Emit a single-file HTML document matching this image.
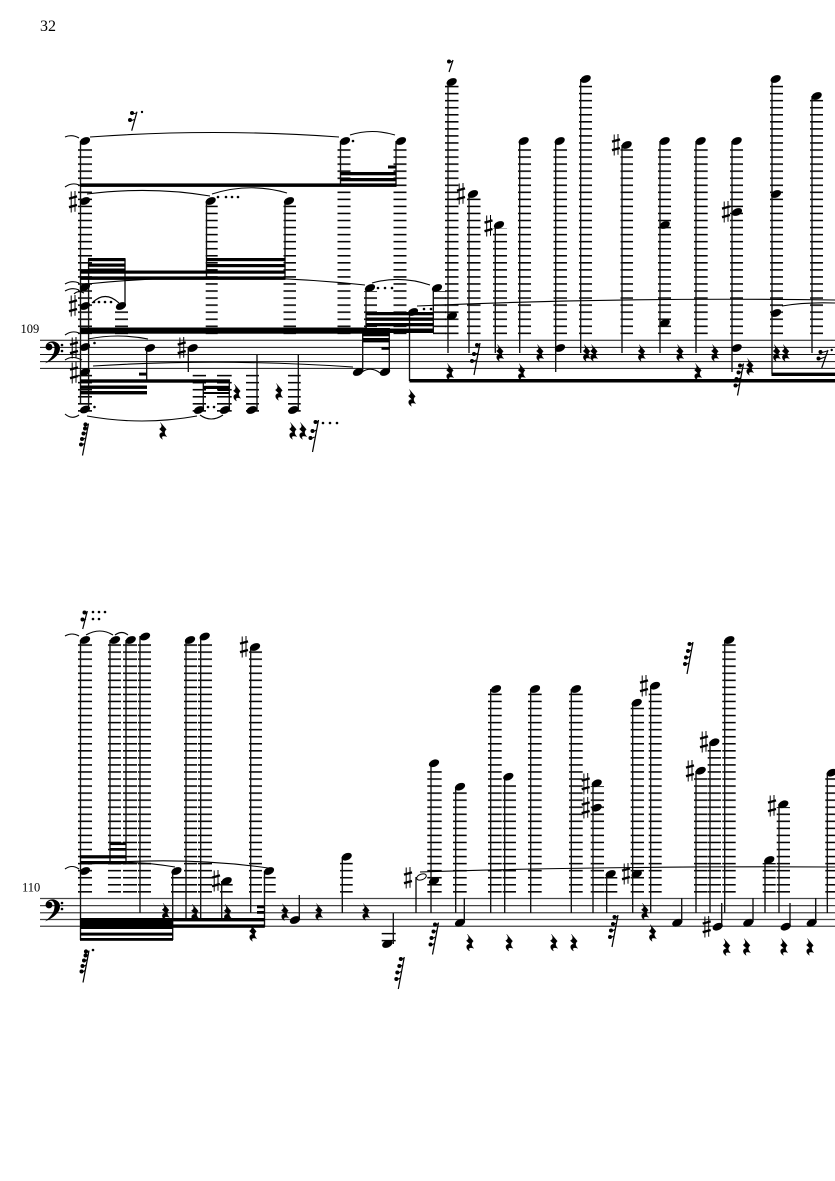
<!DOCTYPE html>
<html><head><meta charset="utf-8"><style>
html,body{margin:0;padding:0;background:#fff}
svg{display:block}
text{font-family:"Liberation Serif",serif;fill:#000}
</style></head><body>
<svg width="835" height="1181" viewBox="0 0 835 1181" xmlns="http://www.w3.org/2000/svg">
<defs>
<pattern id="a" patternUnits="userSpaceOnUse" width="10" height="7.05" y="329.7"><rect x="0" y="2.85" width="10" height="1.55" fill="#000"/></pattern>
<pattern id="b" patternUnits="userSpaceOnUse" width="10" height="7.05" y="888.2"><rect x="0" y="2.85" width="10" height="1.55" fill="#000"/></pattern>
<ellipse id="n" cx="0" cy="0" rx="5.4" ry="3.5" transform="rotate(-24)"/>
<g id="s" stroke="#000" fill="none"><path d="M-1.8 -10.5V10.5M2 -11V9.8" stroke-width="1"/><path d="M-4 -3.4L4 -5.6M-4 5.2L4 3" stroke-width="2.4"/></g>
<path id="q" stroke="#000" stroke-width=".4" d="M-2.6 -8.5L3.3 -1.6C1 .5 1 2.6 3.7 5.6C1 4.6 -2.6 4.6 -.5 8.3C-4.2 6.2 -4.6 1.6 0 1.4L-3.6 -2C-1 -3.6 -.6 -5.2 -2.6 -8.5Z"/>
<g id="f3"><path d="M-3 16L3 -16" stroke="#000" stroke-width="1.2" fill="none"/><circle cx="0" cy="-14" r="2"/><circle cx="-3" cy="-5" r="2"/><circle cx="-5" cy="2" r="2"/><path d="M-1 -13L3 -15M-3 -4L1 -6M-5 3L-1 1" stroke="#000" stroke-width="1.1"/></g>
<g id="f4"><path d="M-3 16L3 -16" stroke="#000" stroke-width="1.2" fill="none"/><circle cx="-.5" cy="-14" r="2"/><circle cx="-2" cy="-7" r="2"/><circle cx="-4" cy="-.5" r="2"/><circle cx="-5" cy="6" r="2"/><path d="M-.5 -13L3 -15M-2 -6L1.5 -8M-4 .5L0 -1.5M-5 7L-1 5" stroke="#000" stroke-width="1.1"/></g>
<g id="f5"><path d="M-3 16L3 -16" stroke="#000" stroke-width="1.2" fill="none"/><circle cx="0" cy="-15" r="2.1"/><circle cx="-.5" cy="-11" r="2"/><circle cx="-2" cy="-6" r="2"/><circle cx="-3.5" cy="-.5" r="2"/><circle cx="-4.5" cy="5" r="2"/><path d="M0 -14L3 -15M-.5 -10L2.5 -12M-2 -5L1.5 -7M-3.5 .5L0 -1.5M-4.5 6L-1 4" stroke="#000" stroke-width="1.1"/></g>
<g id="c"><circle cx="49" cy="347" r="3.4"/><path d="M45.6 347C45.6 342 52 340.2 55.5 342C61 344.3 61 350 58 354.2C54.8 358.4 50 361.4 45 363.4C49.5 359.5 53.6 356 54.4 350C55.2 345.5 53 342.6 50.6 342.8C48.6 343.2 47.4 344.4 45.6 347Z"/><circle cx="62" cy="345" r="1.3"/><circle cx="62" cy="351" r="1.3"/></g>
</defs>
<rect width="835" height="1181" fill="#fff"/>
<text x="40" y="31" font-size="16">32</text>
<text x="20.5" y="333" font-size="12.5">109</text>
<text x="22" y="891.5" font-size="12.5">110</text>

<path d="M40 340.3H835M40 347.4H835M40 354.5H835M40 361.6H835M40 368.4H835" stroke="#111" stroke-width="1" fill="none"/>
<path d="M40 898.5H835M40 905.6H835M40 912.7H835M40 919.5H835M40 926.3H835" stroke="#444" stroke-width="1.25" fill="none"/>
<use href="#c"/><use href="#c" y="558"/>

<g fill="url(#a)">
<rect x="78" y="144" width="14" height="191"/><rect x="115" y="308" width="13" height="27"/><rect x="205.7" y="204" width="12" height="131"/><rect x="283.5" y="204" width="12.5" height="131"/><rect x="337.5" y="144" width="13" height="191"/><rect x="393.5" y="144" width="13" height="191"/><rect x="364" y="291" width="13" height="44"/><rect x="433" y="291" width="13" height="44"/>
<rect x="445" y="85" width="13.5" height="250"/><rect x="467" y="197" width="13.5" height="138"/><rect x="493" y="228" width="14" height="107"/><rect x="518" y="144" width="13" height="191"/><rect x="553.5" y="144" width="13.5" height="191"/><rect x="579" y="82" width="13" height="253"/><rect x="620.5" y="148" width="12.5" height="187"/><rect x="658" y="144" width="13" height="191"/><rect x="694" y="144" width="13.7" height="191"/><rect x="730" y="144" width="13" height="191"/><rect x="770" y="82" width="13" height="253"/><rect x="810" y="99" width="13" height="236"/>
<rect x="78" y="373" width="14" height="39"/><rect x="192.7" y="373" width="13.3" height="39"/><rect x="217" y="373" width="14.7" height="39"/><rect x="246" y="373" width="13" height="39"/><rect x="288" y="373" width="12.7" height="39"/>
</g>
<g fill="url(#b)">
<rect x="78" y="643" width="14" height="250"/><rect x="108" y="643" width="13" height="250"/><rect x="123" y="643" width="14" height="250"/><rect x="138" y="639" width="13" height="254"/><rect x="184" y="642" width="13" height="251"/><rect x="198" y="639" width="14" height="254"/><rect x="249" y="650" width="13" height="243"/><rect x="171" y="875" width="13" height="18"/><rect x="220" y="883" width="12.7" height="10"/><rect x="263.5" y="875" width="12.2" height="18"/><rect x="340" y="860" width="12.7" height="33"/>
<rect x="427.3" y="766" width="14.4" height="127"/><rect x="453" y="790" width="13.7" height="103"/><rect x="488" y="692" width="13.7" height="201"/><rect x="502.7" y="780" width="13.3" height="113"/><rect x="528" y="692" width="13.7" height="201"/><rect x="569" y="692" width="13.7" height="201"/><rect x="590.7" y="786" width="13.3" height="107"/><rect x="604.3" y="877" width="13" height="16"/><rect x="630.7" y="706" width="13.3" height="187"/><rect x="648.7" y="689" width="13" height="204"/><rect x="694" y="774" width="13.3" height="119"/><rect x="707.7" y="745" width="13.3" height="148"/><rect x="722.3" y="643" width="13.4" height="250"/><rect x="762.7" y="863" width="13" height="30"/><rect x="776.7" y="807" width="13.3" height="86"/><rect x="825.3" y="776" width="9.7" height="117"/>
</g>
<path d="M381.7 933.6H395.7M381.7 940.6H395.7" stroke="#000" stroke-width="1.5"/>

<path stroke="#111" stroke-width="1.35" fill="none" d="M80.5 141V403M88.6 259V409M125 259V306M146.7 348V381M188.3 348V372M203.3 381V410M229.3 381V410M257 355V410M298.3 355V410M206.5 201V278M285 201V278M340.5 141V185M396 141V185M366 288V333M362.7 328V372M389.3 328V372M409.5 312V381M433.3 288V333M448 82V353M469 194V353M495.3 225V353M519.7 141V353M555.7 141V372M580.7 79V353M622 145V353M660 141V353M696 141V353M732 141V372M772 79V374M812 96V353"/>
<path stroke="#111" stroke-width="1.35" fill="none" d="M80.5 640V940M110 640V863M126 640V863M140 636V913M186 639V919M200.7 636V919M250.7 647V913M172.7 871V940M221.7 881V919M264.5 871V927M299.3 920V895M342.3 857V913M393.3 944V913M416 877V913M431 763V913M455.7 787V913M464.3 922V898M490.7 689V913M504.7 777V913M530.7 689V913M571.3 689V913M593 783V913M606.7 874V913M632.7 703V913M650.7 686V913M681.7 922V898M696 771V913M710 742V913M721.7 926V903M724.7 640V913M753 922V898M765 860V913M779 804V913M790 926V903M815.7 922V898M827.3 773V913"/>

<g fill="#000">
<rect x="80" y="183.4" width="316.5" height="3.5"/>
<rect x="340" y="172" width="56.5" height="3.3"/><rect x="340" y="178" width="56.5" height="3.3"/><rect x="388" y="165.5" width="8.5" height="3"/>
<rect x="80" y="276.4" width="205.5" height="3.5"/><rect x="80" y="270.5" width="126.5" height="3.2"/><rect x="206" y="258" width="79.5" height="3.2"/><rect x="206" y="264" width="79.5" height="3.2"/><rect x="206" y="270.5" width="79.5" height="3.2"/>
<rect x="88" y="258" width="37.5" height="3.2"/><rect x="88" y="263.5" width="37.5" height="3.2"/><rect x="88" y="268.5" width="37.5" height="2.8"/>
<rect x="80" y="327.5" width="287" height="6.2"/>
<rect x="366" y="312" width="67.5" height="3.3"/><rect x="366" y="317.5" width="67.5" height="3.3"/><rect x="366" y="323" width="67.5" height="3.3"/><rect x="366" y="328.5" width="67.5" height="4.5"/>
<rect x="362.5" y="328" width="27" height="3.3"/><rect x="362.5" y="333" width="27" height="3.3"/><rect x="362.5" y="338" width="27" height="4.4"/><rect x="381.5" y="347" width="8" height="2.8"/>
<rect x="80" y="379.3" width="150" height="3.4"/><rect x="80" y="385.5" width="67" height="3.4"/><rect x="80" y="391" width="67" height="3.4"/><rect x="139" y="372.6" width="8" height="3"/>
<rect x="203" y="385.8" width="26.5" height="3.2"/><rect x="203" y="392" width="26.5" height="2"/><rect x="218" y="389" width="11.5" height="2"/>
<rect x="409.5" y="379" width="425.5" height="3.5"/><rect x="771.5" y="372.6" width="63.5" height="3.4"/>
<rect x="80" y="918" width="93" height="11"/><rect x="80" y="932.6" width="93" height="3"/><rect x="80" y="938" width="93" height="2.8"/>
<rect x="172" y="918" width="92.8" height="3.4"/><rect x="172" y="924.4" width="92.8" height="3.4"/><rect x="257" y="905.5" width="7.5" height="2.8"/><rect x="257" y="911" width="7.5" height="2.8"/>
<rect x="80" y="855.2" width="46" height="3.2"/><rect x="80" y="861" width="46" height="3.2"/><rect x="110" y="842.4" width="16" height="2.7"/><rect x="110" y="848" width="16" height="2.7"/>
</g>

<g>
<use href="#n" x="85" y="141"/><use href="#n" x="345" y="141"/><use href="#n" x="401" y="141"/>
<use href="#n" x="85" y="201"/><use href="#n" x="210.7" y="201"/><use href="#n" x="289" y="201"/>
<use href="#n" x="85" y="287"/><use href="#n" x="85" y="306"/><use href="#n" x="121" y="306"/><use href="#n" x="370" y="288"/>
<use href="#n" x="85" y="347"/><use href="#n" x="85" y="372"/><use href="#n" x="85" y="409.5"/><use href="#n" x="150" y="348"/><use href="#n" x="192.7" y="348"/>
<use href="#n" x="199" y="410"/><use href="#n" x="225" y="410"/><use href="#n" x="251.7" y="410"/><use href="#n" x="293.3" y="410"/>
<use href="#n" x="358" y="372"/><use href="#n" x="385" y="372"/><use href="#n" x="413" y="312"/><use href="#n" x="437" y="288"/>
<use href="#n" x="451.7" y="82"/><use href="#n" x="452" y="316"/><use href="#n" x="473" y="194"/><use href="#n" x="499" y="225"/><use href="#n" x="523.7" y="141"/><use href="#n" x="559.7" y="141"/><use href="#n" x="560" y="348"/><use href="#n" x="585.7" y="79"/><use href="#n" x="626.7" y="145"/><use href="#n" x="664.7" y="141"/><use href="#n" x="664.7" y="225"/><use href="#n" x="664.7" y="323"/><use href="#n" x="700.7" y="141"/><use href="#n" x="736.7" y="141"/><use href="#n" x="737" y="212"/><use href="#n" x="736.7" y="348"/><use href="#n" x="775.7" y="79"/><use href="#n" x="776" y="194"/><use href="#n" x="776" y="313"/><use href="#n" x="816.7" y="96"/>
<use href="#n" x="85" y="640"/><use href="#n" x="85" y="871"/><use href="#n" x="115" y="640"/><use href="#n" x="130.7" y="640"/><use href="#n" x="145" y="636.5"/><use href="#n" x="190" y="640"/><use href="#n" x="204.7" y="636.5"/><use href="#n" x="255" y="647"/><use href="#n" x="176.5" y="871"/><use href="#n" x="226.7" y="881"/><use href="#n" x="269" y="871"/><use href="#n" x="295" y="920"/><use href="#n" x="346.7" y="856.7"/><use href="#n" x="387.3" y="944"/>
<use href="#n" x="434" y="763.3"/><use href="#n" x="434" y="881"/><use href="#n" x="460" y="786.7"/><use href="#n" x="460" y="922.7"/><use href="#n" x="496" y="689"/><use href="#n" x="508.3" y="776.7"/><use href="#n" x="535" y="689"/><use href="#n" x="576" y="689"/><use href="#n" x="596.7" y="783.3"/><use href="#n" x="596.7" y="807.7"/><use href="#n" x="610.7" y="874"/><use href="#n" x="636.7" y="702.7"/><use href="#n" x="636.7" y="874"/><use href="#n" x="655" y="685.7"/><use href="#n" x="677.3" y="922.7"/><use href="#n" x="700.7" y="770.7"/><use href="#n" x="714.3" y="742.3"/><use href="#n" x="717.7" y="926.7"/><use href="#n" x="729.3" y="640"/><use href="#n" x="748.3" y="922.7"/><use href="#n" x="769.3" y="860"/><use href="#n" x="783.3" y="804.3"/><use href="#n" x="785.7" y="926.7"/><use href="#n" x="811.7" y="922.7"/><use href="#n" x="831.7" y="772.7"/>
</g>
<ellipse cx="421.5" cy="877" rx="5" ry="2.8" transform="rotate(-20 421.5 877)" fill="#fff" stroke="#000" stroke-width="1"/>

<g>
<use href="#s" x="73" y="202"/><use href="#s" x="73" y="306"/><use href="#s" x="74" y="348"/><use href="#s" x="74" y="373"/><use href="#s" x="181.7" y="348"/><use href="#s" x="461" y="194"/><use href="#s" x="488.5" y="226"/><use href="#s" x="616" y="145"/><use href="#s" x="726" y="212"/>
<use href="#s" x="244" y="647"/><use href="#s" x="216" y="881"/><use href="#s" x="408" y="878"/><use href="#s" x="585.7" y="784"/><use href="#s" x="585.7" y="808"/><use href="#s" x="626" y="874"/><use href="#s" x="644" y="686"/><use href="#s" x="690" y="771"/><use href="#s" x="704" y="742"/><use href="#s" x="706.7" y="927"/><use href="#s" x="772" y="806"/>
</g>

<g>
<use href="#q" x="237" y="392.7"/><use href="#q" x="279" y="392"/><use href="#q" x="163" y="431"/><use href="#q" x="293" y="431"/><use href="#q" x="303" y="431"/><use href="#q" x="412" y="398"/>
<use href="#q" x="450" y="372"/><use href="#q" x="500" y="353"/><use href="#q" x="521.7" y="372"/><use href="#q" x="540" y="353"/><use href="#q" x="586.7" y="353"/><use href="#q" x="594" y="353"/><use href="#q" x="641.7" y="353"/><use href="#q" x="680" y="353"/><use href="#q" x="715" y="353"/><use href="#q" x="698" y="372"/><use href="#q" x="750" y="367"/><use href="#q" x="776.7" y="353"/><use href="#q" x="785.7" y="353"/>
<use href="#q" x="165.7" y="911.7"/><use href="#q" x="195" y="912.7"/><use href="#q" x="227.7" y="912.7"/><use href="#q" x="253" y="933"/><use href="#q" x="285" y="912.3"/><use href="#q" x="319" y="912"/><use href="#q" x="366" y="912"/><use href="#q" x="470" y="942.7"/><use href="#q" x="509.3" y="942.7"/><use href="#q" x="554" y="942.7"/><use href="#q" x="574" y="942.7"/><use href="#q" x="645" y="911.7"/><use href="#q" x="652.7" y="933"/><use href="#q" x="726.7" y="947.3"/><use href="#q" x="746.7" y="947"/><use href="#q" x="784" y="947"/><use href="#q" x="810" y="947"/>
<use href="#f5" x="85.5" y="439.5"/><use href="#f3" x="315.5" y="436"/><use href="#f3" x="477" y="359"/><use href="#f4" x="740.5" y="379.5"/>
<use href="#f5" x="86" y="966.5"/><use href="#f4" x="401.3" y="973"/><use href="#f4" x="435.5" y="938.5"/><use href="#f4" x="615" y="931"/><use href="#f4" x="690" y="658"/>
</g>
<g fill="#000">
<path d="M131.7 130.7L137 111.7" stroke="#000" stroke-width="1.2" fill="none"/><circle cx="132" cy="113" r="2"/><circle cx="130" cy="120" r="2"/><path d="M132 114L136.5 113M130 121L134.5 119.5" stroke="#000" stroke-width="1.1"/><circle cx="142" cy="112" r="1.2"/>
<path d="M449 72L453 60" stroke="#000" stroke-width="1.2" fill="none"/><circle cx="449" cy="61.5" r="2"/><path d="M449.5 62.5L453 61" stroke="#000" stroke-width="1.1"/>
<path d="M821.7 368L828 350" stroke="#000" stroke-width="1.2" fill="none"/><circle cx="820.5" cy="352" r="2"/><circle cx="818.5" cy="358.5" r="2"/><path d="M820.5 353L827 351M818.5 359.5L825 357" stroke="#000" stroke-width="1.1"/><circle cx="831.7" cy="350" r="1.2"/>
<path d="M82.7 629L87.3 611" stroke="#000" stroke-width="1.2" fill="none"/><circle cx="84.5" cy="612.5" r="2"/><circle cx="82.5" cy="619.5" r="2"/><path d="M84.5 613.5L87.5 612.5M82.5 620.5L86 619" stroke="#000" stroke-width="1.1"/>
</g>

<g fill="#000">
<circle cx="353" cy="141" r="1.3"/><circle cx="218" cy="197" r="1.3"/><circle cx="226" cy="197" r="1.3"/><circle cx="232" cy="197" r="1.3"/><circle cx="238" cy="197" r="1.3"/>
<circle cx="94" cy="302" r="1.3"/><circle cx="99" cy="302" r="1.3"/><circle cx="105" cy="302" r="1.3"/><circle cx="111" cy="302" r="1.3"/>
<circle cx="94.5" cy="343" r="1.3"/><circle cx="94.5" cy="407" r="1.3"/><circle cx="208" cy="407" r="1.3"/><circle cx="214" cy="407" r="1.3"/>
<circle cx="378" cy="288" r="1.3"/><circle cx="385" cy="288" r="1.3"/><circle cx="392" cy="288" r="1.3"/><circle cx="424" cy="309" r="1.3"/><circle cx="431" cy="309" r="1.3"/>
<circle cx="323" cy="423" r="1.3"/><circle cx="330" cy="423" r="1.3"/><circle cx="337" cy="423" r="1.3"/>
<circle cx="93" cy="612" r="1.3"/><circle cx="99" cy="612" r="1.3"/><circle cx="105" cy="612" r="1.3"/><circle cx="93" cy="619" r="1.3"/><circle cx="99" cy="619" r="1.3"/>
<circle cx="93" cy="950" r="1.3"/>
</g>

<g fill="none" stroke="#000" stroke-width="1.1">
<path d="M90 137Q212 128 339 137"/><path d="M350 135Q372 128 395 135"/><path d="M65 137Q72 134 79 138"/><path d="M65 187Q72 182 79 185"/>
<path d="M87 194Q150 186 210 196"/><path d="M212 194Q250 182 287 193"/>
<path d="M87 284Q225 270 365 285"/><path d="M65 284Q72 280 79 283"/><path d="M65 291Q72 287 79 290"/><path d="M74 294Q78 290 84 293"/>
<path d="M92 303Q105 290 119 303"/><path d="M65 335Q72 330 79 333"/><path d="M65 360Q72 355 82 360"/>
<path d="M88 339Q118 333 148 339"/><path d="M93 366Q222 358 353 367"/><path d="M362 372Q371 366 380 373"/>
<path d="M87 416Q142 426 197 416"/><path d="M200 415Q211 423 223 415"/><path d="M65 414Q72 420 79 415"/>
<path d="M372 283Q400 275 430 285"/><path d="M417 306Q620 297 835 300"/><path d="M782 306Q805 302 835 303"/>
<path d="M65 636Q72 632 79 636"/><path d="M86 635Q100 627 113 635"/><path d="M115 635Q122 630 128 635"/>
<path d="M65 869Q72 864 79 869"/><path d="M87 863Q135 860 175 867"/><path d="M88 864Q185 856 268 868"/>
<path d="M420 872Q600 866 835 867"/>
</g>
</svg>
</body></html>
